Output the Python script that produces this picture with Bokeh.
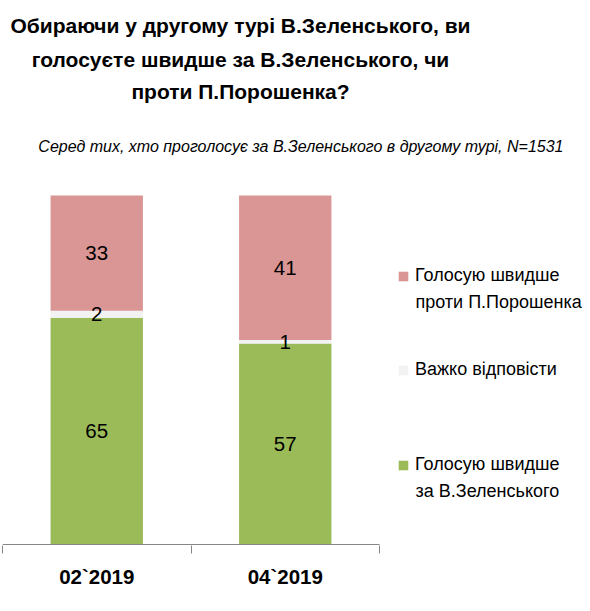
from bokeh.plotting import figure
from bokeh.models import (Range1d, FixedTicker, Label, Legend, LegendItem,
                          ColumnDataSource, LabelSet)
from bokeh.core.properties import value
from bokeh.embed import file_html
from bokeh.resources import INLINE

# ---- data ----
periods = ["02`2019", "04`2019"]
za_zelenskogo = [65, 57]
vazhko = [2, 1]
proty_poroshenka = [33, 41]
series_names = ["Голосую швидше\nза В.Зеленського", "Важко відповісти",
                "Голосую швидше\nпроти П.Порошенка"]
colors = ["#9BBB59", "#F2F2F2", "#D99694"]

title_lines = ["Обираючи у другому турі В.Зеленського, ви",
               "голосуєте швидше за В.Зеленського, чи",
               "проти П.Порошенка?"]
subtitle = "Серед тих, хто проголосує за В.Зеленського в другому турі, N=1531"

FONT = "Liberation Sans"

# 100% stacked shares
xs = list(range(len(periods)))
totals = [a + b + c for a, b, c in zip(za_zelenskogo, vazhko, proty_poroshenka)]
s_za = [v / t * 100 for v, t in zip(za_zelenskogo, totals)]
s_vz = [v / t * 100 for v, t in zip(vazhko, totals)]
s_pr = [v / t * 100 for v, t in zip(proty_poroshenka, totals)]

src = ColumnDataSource(dict(x=xs, za=s_za, vz=s_vz, pr=s_pr))

# frame covers the canvas; bars occupy the lower-left region
PX_PER_CAT = 188.5
PX_PER_PCT = 3.49
FRAME_W, FRAME_H = 588, 545
x_start = -0.5
x_end = x_start + FRAME_W / PX_PER_CAT
y_start = -1 / PX_PER_PCT
y_end = y_start + FRAME_H / PX_PER_PCT

p = figure(width=590, height=611, x_range=Range1d(x_start, x_end),
           y_range=Range1d(y_start, y_end),
           output_backend="svg", toolbar_location=None, y_axis_location=None,
           min_border_left=2, min_border_right=0, min_border_top=0,
           min_border_bottom=611 - FRAME_H)
p.outline_line_color = None
p.xgrid.visible = False
p.ygrid.visible = False
p.background_fill_color = "#FFFFFF"

rends = p.vbar_stack(["za", "vz", "pr"], x="x", width=0.49, source=src,
                     color=colors, line_color=None)

# category baseline
p.segment(x0=[xs[0] - 0.5], x1=[xs[-1] + 0.5], y0=[0], y1=[0],
          line_color="#868686", line_width=1)

# value labels
lx, ly, lt = [], [], []
for i in xs:
    segs = [(s_za[i], za_zelenskogo[i]), (s_vz[i], vazhko[i]), (s_pr[i], proty_poroshenka[i])]
    base = 0
    for h, v in segs:
        lx.append(i)
        ly.append(base + h / 2)
        lt.append(str(v))
        base += h
lab_src = ColumnDataSource(dict(x=lx, y=ly, t=lt))
p.add_layout(LabelSet(x="x", y="y", text="t", source=lab_src, text_align="center",
                      text_baseline="middle", text_font=value(FONT),
                      text_font_size=value("20.5px"), text_color="#000000"))

# axis
ax = p.xaxis[0]
ax.ticker = FixedTicker(ticks=xs, minor_ticks=[i - 0.5 for i in xs] + [xs[-1] + 0.5])
ax.major_label_overrides = {i: periods[i] for i in xs}
ax.axis_line_color = None
ax.major_tick_line_color = None
ax.major_tick_out = 0
ax.major_tick_in = 0
ax.minor_tick_in = 0
ax.minor_tick_out = 8
ax.minor_tick_line_color = "#868686"
ax.major_label_text_font = FONT
ax.major_label_text_font_style = "bold"
ax.major_label_text_font_size = "20.5px"
ax.major_label_text_color = "#000000"
ax.major_label_standoff = 11

# titles (screen units relative to frame's bottom-left)
for txt, yy in zip(title_lines, [520, 486.5, 454.5]):
    p.add_layout(Label(x=238, y=yy, x_units="screen", y_units="screen", text=txt,
                       text_align="center", text_baseline="middle", text_font=FONT,
                       text_font_style="bold", text_font_size="21px", text_color="#000000"))
p.add_layout(Label(x=561, y=399, x_units="screen", y_units="screen", text=subtitle,
                   text_align="right", text_baseline="middle", text_font=FONT,
                   text_font_style="italic", text_font_size="16px", text_color="#000000"))

# legends: first line as legend label, continuation line as a label beneath
LEG_X = 395
leg_line1_y = [69.6, 164.6, 258.6]
for r, name, ly1 in zip(rends, series_names, leg_line1_y):
    lines = name.split("\n")
    lg = Legend(items=[LegendItem(label=lines[0], renderers=[r])], location=(LEG_X, ly1),
                background_fill_alpha=0, border_line_color=None, padding=0, margin=0,
                glyph_width=12, glyph_height=12, label_standoff=6,
                label_text_font=FONT, label_text_font_size="18px",
                label_text_color="#000000")
    p.add_layout(lg, "center")
    for k, extra in enumerate(lines[1:], start=1):
        p.add_layout(Label(x=LEG_X + 18, y=ly1 + 10.4 - 25 * k, x_units="screen",
                           y_units="screen", text=extra, text_align="left",
                           text_baseline="middle", text_font=FONT,
                           text_font_size="18px", text_color="#000000"))

open("out.html", "w").write(file_html(p, INLINE))
